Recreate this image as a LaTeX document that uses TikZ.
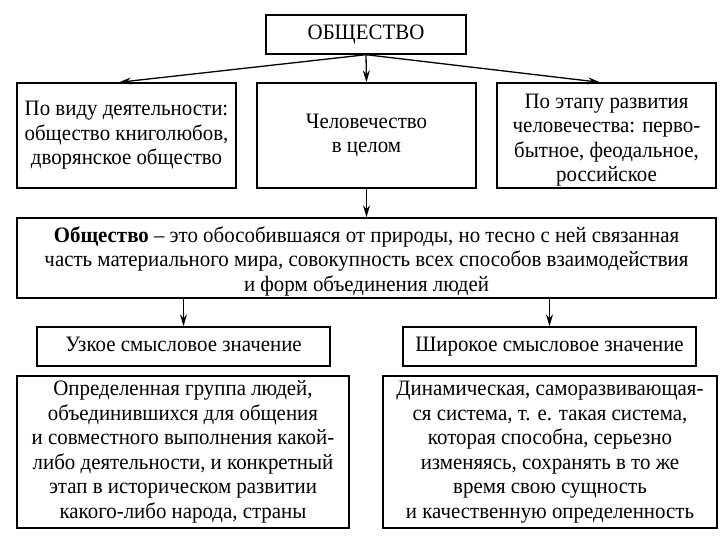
\documentclass[tikz,border=0pt]{standalone}
\usepackage{fontspec}
\setmainfont[FakeStretch=0.95]{Liberation Serif}
\usetikzlibrary{arrows.meta}
\begin{document}
\begin{tikzpicture}[x=1pt, y=-1pt,
          every node/.style = {shape=rectangle, draw, line width=1.4pt,
            align=center, inner sep=0pt,
            font=\fontsize{22}{24.5}\selectfont},
          oneline/.style = {text height=15pt, text depth=5pt},
          arr/.style = {-{Stealth[length=12pt,width=7pt]}, line width=1.3pt}]
  \useasboundingbox (0,0) rectangle (726,538);
  % верхний уровень
  \node[oneline, minimum width=200, minimum height=39] (soc) at (366,34.5) {ОБЩЕСТВО};
  \node[minimum width=219, minimum height=105] (vid) at (126.5,135.5)
    {По виду деятельности:\\общество книголюбов,\\дворянское общество};
  \node[minimum width=219, minimum height=105] (hum) at (366.5,135.5)
    {Человечество\\в целом};
  \node[minimum width=219, minimum height=105] (etap) at (606.5,135.5)
    {\rule{0pt}{24pt}По этапу развития\\человечества: перво-\\бытное, феодальное,\\российское};
  % определение
  \node[minimum width=699, minimum height=80] (def) at (366.5,258)
    {\rule{0pt}{22pt}\textbf{Общество} – это обособившаяся от природы, но тесно с ней связанная\\
     часть материального мира, совокупность всех способов взаимодействия\\
     и форм объединения людей};
  % два значения
  \node[oneline, minimum width=293, minimum height=39] (narrow) at (183.5,346.5)
    {Узкое смысловое значение};
  \node[oneline, minimum width=293, minimum height=39] (wide) at (549.5,346.5)
    {Широкое смысловое значение};
  \node[minimum width=332, minimum height=152] (narrowtxt) at (183,452)
    {Определенная группа людей,\\объединившихся для общения\\
     и совместного выполнения какой-\\либо деятельности, и конкретный\\
     этап в историческом развитии\\какого-либо народа, страны};
  \node[minimum width=334, minimum height=152] (widetxt) at (550,452)
    {Динамическая, саморазвивающая-\\ся система, т. е. такая система,\\
     которая способна, серьезно\\изменяясь, сохранять в то же\\
     время свою сущность\\и качественную определенность};
  % стрелки
  \draw[arr] (soc.south) -- ([xshift=-7.5pt]vid.north);
  \draw[arr] (soc.south) -- (hum.north);
  \draw[arr] (soc.south) -- ([xshift=-6.5pt]etap.north);
  \draw[arr] (hum.south) -- (def.north);
  \draw[arr] (def.south -| narrow.north) -- (narrow.north);
  \draw[arr] (def.south -| wide.north) -- (wide.north);
\end{tikzpicture}
\end{document}
